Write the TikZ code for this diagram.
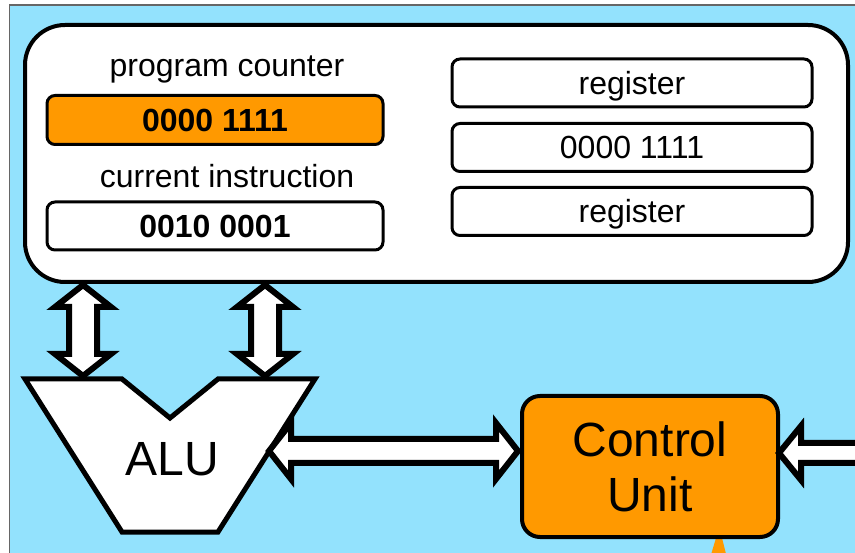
\documentclass[tikz,border=0pt]{standalone}
\usepackage{fontspec}
\setmainfont{Liberation Sans}
\usetikzlibrary{calc}
\definecolor{sky}{RGB}{147,226,253}
\definecolor{amber}{RGB}{255,153,0}

% fat two-headed bus arrows, tips at #1 and #2
\newcommand\vbus[2]{\draw[bus] (#1) -- ($(#1)+(28,22)$) -- ($(#1)+(14,22)$) -- ($(#2)+(14,-22)$) -- ($(#2)+(28,-22)$) -- (#2) -- ($(#2)+(-28,-22)$) -- ($(#2)+(-14,-22)$) -- ($(#1)+(-14,22)$) -- ($(#1)+(-28,22)$) -- cycle;}
\newcommand\hbus[2]{\draw[bus] (#1) -- ($(#1)+(22,-28)$) -- ($(#1)+(22,-12)$) -- ($(#2)+(-22,-12)$) -- ($(#2)+(-22,-28)$) -- (#2) -- ($(#2)+(-22,28)$) -- ($(#2)+(-22,12)$) -- ($(#1)+(22,12)$) -- ($(#1)+(22,28)$) -- cycle;}

\begin{document}
\begin{tikzpicture}
[x=1pt,y=-1pt,
 panel/.style={draw, line width=4pt, fill=white, rounded corners=40pt},
 reg/.style={draw, line width=3pt, fill=white, rounded corners=8pt, minimum height=48pt,
   text height=23pt, text depth=0pt, font=\fontsize{32}{36}\selectfont},
 lbl/.style={anchor=base, font=\fontsize{32}{36}\selectfont},
 big/.style={font=\fontsize{48}{55}\selectfont},
 bus/.style={draw, line width=6pt, fill=white},]
\clip (0,0) rectangle (855,553);
\fill[sky] (9.5,5) rectangle (870,570);
\draw[gray!80!black, line width=1.5pt] (9.5,570) -- (9.5,5) -- (870,5);

% registers
\node[panel, minimum width=823pt, minimum height=257pt] (cpu) at (436.5,153.5) {};
\node[lbl] (pclbl) at (227,77) {program counter};
\node[reg, fill=amber, minimum width=336pt, minimum height=49pt] (pc) at (215,120) {\bfseries 0000 1111};
\node[lbl] (irlbl) at (227,188) {current instruction};
\node[reg, minimum width=336pt] (ir) at (215,226) {\bfseries 0010 0001};
\node[reg, minimum width=360pt] (r1) at (632,83) {register};
\node[reg, minimum width=360pt] (r2) at (632,147.5) {0000 1111};
\node[reg, minimum width=360pt] (r3) at (632,211.5) {register};

% ALU
\draw[line width=5pt, fill=white] (25,379) -- (122,379) -- (170,418) -- (218,379) -- (315,379)
  -- (218,532) -- (122,532) -- cycle;
\node[big, anchor=base] (alu) at (172,476) {ALU};

% control unit
\coordinate (cuS) at (719,538);
\fill[amber] ($(cuS)+(-3,0)$) -- ($(cuS)+(3,0)$) -- ($(cuS)+(8,20)$) -- ($(cuS)+(-9,20)$) -- cycle;
\node[draw, line width=4pt, fill=amber, rounded corners=18pt, minimum width=256pt,
  minimum height=141pt, align=center, big] (cu) at (650,466.5) {Control\\Unit};

% buses
\coordinate (pcA) at (83,285);
\coordinate (aluA) at (83,376);
\coordinate (pcB) at (265,285);
\coordinate (aluB) at (265,376);
\coordinate (aluE) at (269,451);
\coordinate (cuW) at (518,451);
\coordinate (cuE) at (779,453);
\coordinate (far) at (870,453);
\vbus{pcA}{aluA}
\vbus{pcB}{aluB}
\hbus{aluE}{cuW}
\draw[bus] (cuE) -- ($(cuE)+(22,-27)$) -- ($(cuE)+(22,-10)$) -- ($(far)+(0,-10)$)
  -- ($(far)+(0,10)$) -- ($(cuE)+(22,10)$) -- ($(cuE)+(22,27)$) -- cycle;

\end{tikzpicture}
\end{document}
